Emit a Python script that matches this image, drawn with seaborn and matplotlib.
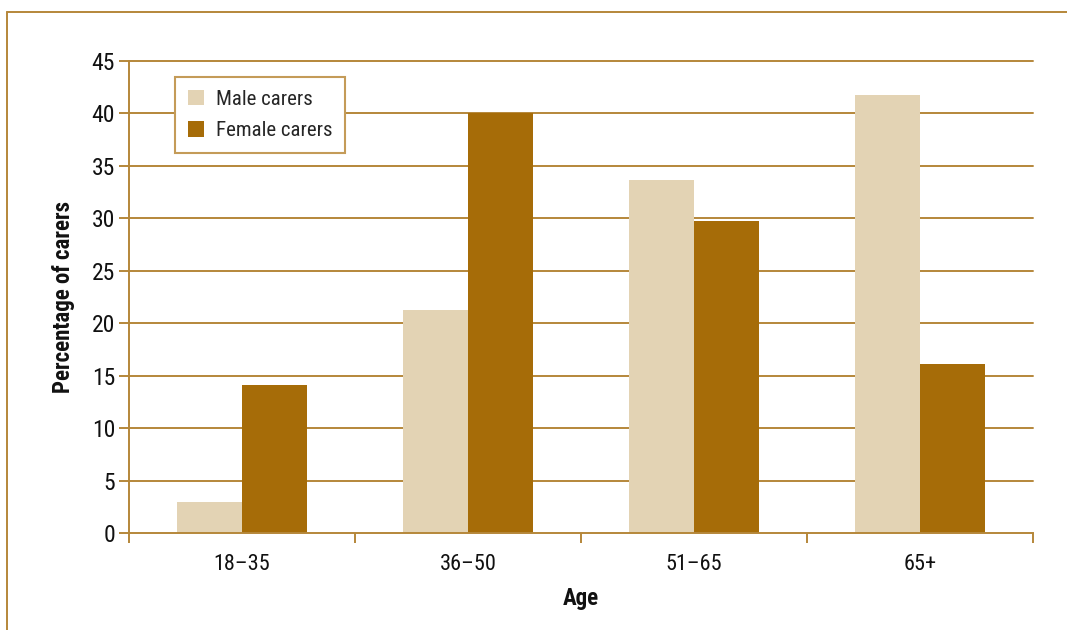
import matplotlib
matplotlib.use("Agg")
import matplotlib.pyplot as plt
import matplotlib.lines as mlines
from matplotlib import font_manager
import seaborn as sns
import pandas as pd

# Share of carers in each age band, by sex
age_groups = ["18–35", "36–50", "51–65", "65+"]
male_carers = [3.0, 21.3, 33.7, 41.8]
female_carers = [14.1, 40.0, 29.7, 16.1]
series_names = ["Male carers", "Female carers"]
y_ticks = [0, 5, 10, 15, 20, 25, 30, 35, 40, 45]

df = pd.DataFrame({
    "Age": age_groups * 2,
    "Percentage": male_carers + female_carers,
    "Sex": [series_names[0]] * len(age_groups) + [series_names[1]] * len(age_groups),
})

sns.set_theme(style="white")

# Prefer a condensed face when one is installed
installed = {f.name for f in font_manager.fontManager.ttflist}
condensed = [n for n in ("Liberation Sans Narrow", "Roboto Condensed",
                         "Open Sans Condensed", "DejaVu Sans Condensed")
             if n in installed]
if condensed:
    base_font = condensed[0]
    ytick_size, xtick_size, legend_size, label_size = 17, 16, 15, 16.5
else:
    base_font = "Liberation Sans"
    ytick_size, xtick_size, legend_size, label_size = 14, 13.5, 12.5, 13.5
plt.rcParams["font.family"] = [base_font, "DejaVu Sans"]

GOLD = "#B5873A"
palette = {"Male carers": "#E3D3B4", "Female carers": "#A66C08"}

fig = plt.figure(figsize=(10.67, 6.30), dpi=100)
ax = fig.add_axes([0.1209, 0.1540, 0.8472, 0.7492])

sns.barplot(data=df, x="Age", y="Percentage", hue="Sex", order=age_groups,
            hue_order=series_names, palette=palette, width=0.575,
            saturation=1, linewidth=0, ax=ax, zorder=3)

ax.set_ylim(0, 45)
ax.set_xlim(-0.5, len(age_groups) - 0.5)
ax.set_yticks(y_ticks)
ax.yaxis.grid(False)
for v in y_ticks[1:]:
    ax.axhline(v, color=GOLD, linewidth=1.4, zorder=1, clip_on=False)

for side in ("top", "right"):
    ax.spines[side].set_visible(False)
for side in ("left", "bottom"):
    ax.spines[side].set_color(GOLD)
    ax.spines[side].set_linewidth(1.4)
ax.spines["bottom"].set_zorder(4)

ax.tick_params(axis="y", length=7, width=1.4, color=GOLD, labelsize=ytick_size,
               labelcolor="#111111", pad=3, left=True)
ax.tick_params(axis="x", which="major", length=0, labelsize=xtick_size,
               labelcolor="#111111", pad=15)
ax.set_xticks([i - 0.5 for i in range(len(age_groups) + 1)], minor=True)
ax.tick_params(axis="x", which="minor", length=7, width=1.4, color=GOLD, bottom=True)

ax.set_xlabel("Age", fontsize=label_size, fontweight="bold", color="#111111", labelpad=9)
ax.set_ylabel("Percentage of carers", fontsize=label_size, fontweight="bold",
              color="#111111", labelpad=12)

leg = ax.legend(loc="upper left", bbox_to_anchor=(0.0509, 0.966),
                borderaxespad=0, fontsize=legend_size, frameon=True, fancybox=False,
                handlelength=0.8, handleheight=0.8, handletextpad=0.55,
                labelspacing=0.6, borderpad=0.6, title=None)
leg.get_frame().set_edgecolor("#C49B58")
leg.get_frame().set_linewidth(1.5)
leg.get_frame().set_facecolor("white")
leg.get_frame().set_alpha(1)
leg.set_zorder(5)

# Open frame round the figure: top and left edges only
fig.add_artist(mlines.Line2D([7 / 1067, 1.0], [1 - 12 / 630, 1 - 12 / 630],
                             color=GOLD, linewidth=1.4, transform=fig.transFigure))
fig.add_artist(mlines.Line2D([7 / 1067, 7 / 1067], [0.0, 1 - 12 / 630],
                             color=GOLD, linewidth=1.4, transform=fig.transFigure))

fig.savefig("out.png", dpi=100)
